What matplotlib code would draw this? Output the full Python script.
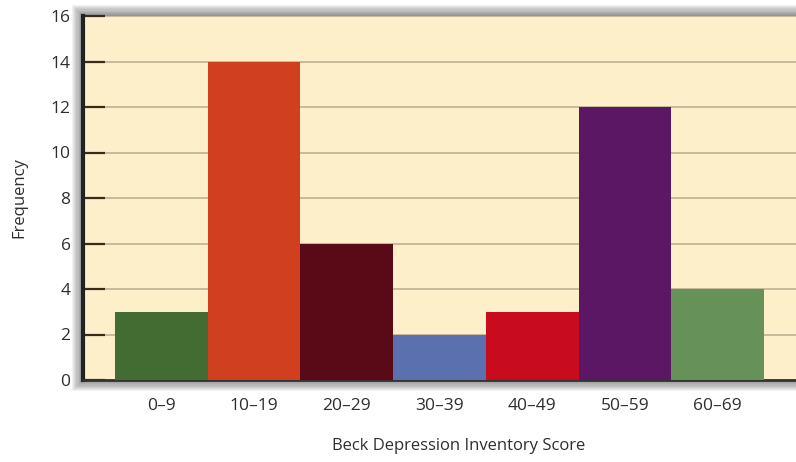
"""
Histogram of Beck Depression Inventory scores.
"""
import matplotlib
matplotlib.use('Agg')
import matplotlib.pyplot as plt
from matplotlib.patches import Rectangle

# data
categories = ['0–9', '10–19', '20–29', '30–39', '40–49', '50–59', '60–69']
frequencies = [3, 14, 6, 2, 3, 12, 4]
bar_colors = ['#436C32', '#D1401E', '#5A0A16', '#5B70AE',
              '#C80C1E', '#5B1763', '#66925A']
y_ticks = [0, 2, 4, 6, 8, 10, 12, 14, 16]

plt.rcParams['font.family'] = ['Open Sans', 'DejaVu Sans']

fig = plt.figure(figsize=(7.96, 4.62), dpi=100)
fig.patch.set_facecolor('white')

left, bottom, width, height = 83 / 796, 82 / 462, 713 / 796, 364 / 462

# soft drop shadow around the plot frame
for i in range(10):
    off = (i + 1) * 1.1
    fig.patches.append(Rectangle(
        (left - off / 796, bottom - off / 462),
        width + 2 * off / 796, height + 2 * off / 462,
        transform=fig.transFigure, facecolor='black',
        alpha=0.05, edgecolor='none', zorder=0))

ax = fig.add_axes([left, bottom, width, height])
ax.set_facecolor('#FDEFC9')
ax.set_zorder(1)

x = list(range(len(categories)))
ax.bar(x, frequencies, width=1.0, color=bar_colors, zorder=3)

ax.set_xlim(-0.845, len(categories) - 1 + 0.845)
ax.set_ylim(0, 16)
ax.set_yticks(y_ticks)
ax.set_xticks(x)
ax.set_xticklabels(categories)

ax.yaxis.grid(True, color='#BDB196', linewidth=1.2, zorder=1)
ax.set_axisbelow(True)

ax.tick_params(axis='y', direction='in', length=16, width=1.6,
               color='#3A2A1A', labelsize=12.5, labelcolor='#2E2E2E', pad=9)
ax.tick_params(axis='x', length=0, labelsize=12.5, labelcolor='#2E2E2E', pad=13)

for side in ['top', 'right']:
    ax.spines[side].set_visible(False)
ax.spines['left'].set_linewidth(3)
ax.spines['left'].set_color('#222222')
ax.spines['bottom'].set_linewidth(2)
ax.spines['bottom'].set_color('#333333')

ax.set_ylabel('Frequency', fontsize=12, color='#2E2E2E')
ax.yaxis.set_label_coords(-56 / 713, (380 - 198) / 364)
fig.text(459 / 796, 1 - 446 / 462, 'Beck Depression Inventory Score',
         ha='center', va='center', fontsize=12, color='#2E2E2E')

plt.savefig('out.png', dpi=100, facecolor=fig.get_facecolor())
